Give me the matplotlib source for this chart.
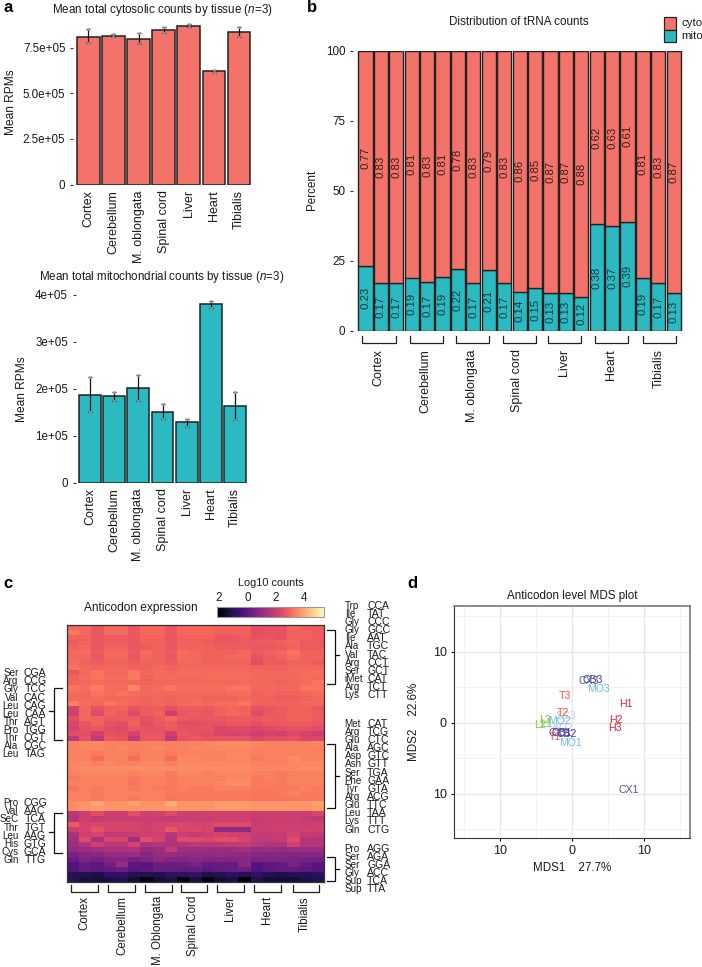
import matplotlib
matplotlib.use('Agg')
import matplotlib.pyplot as plt
from matplotlib.patches import Rectangle
import numpy as np

plt.rcParams['font.family'] = ['Liberation Sans', 'DejaVu Sans']
plt.rcParams['mathtext.fontset'] = 'custom'
plt.rcParams['mathtext.it'] = 'Liberation Sans:italic'
plt.rcParams['mathtext.rm'] = 'Liberation Sans'

W, H = 702, 967
RED = '#f3736b'
TEAL = '#2bbac2'
EDGE = '#222222'
TXT = '#1a1a1a'

tissues = ['Cortex', 'Cerebellum', 'M. oblongata', 'Spinal cord', 'Liver', 'Heart', 'Tibialis']
tissues_c = ['Cortex', 'Cerebellum', 'M. Oblongata', 'Spinal Cord', 'Liver', 'Heart', 'Tibialis']

cyto_mean = [8.10e5, 8.16e5, 7.98e5, 8.47e5, 8.71e5, 6.20e5, 8.36e5]
cyto_hi = [8.50e5, 8.24e5, 8.29e5, 8.65e5, 8.78e5, 6.26e5, 8.63e5]
cyto_lo = [7.74e5, 8.08e5, 7.68e5, 8.29e5, 8.64e5, 6.14e5, 8.10e5]

mito_mean = [1.876e5, 1.84e5, 2.02e5, 1.51e5, 1.29e5, 3.80e5, 1.63e5]
mito_hi = [2.24e5, 1.94e5, 2.29e5, 1.68e5, 1.36e5, 3.87e5, 1.92e5]
mito_lo = [1.51e5, 1.74e5, 1.74e5, 1.36e5, 1.19e5, 3.72e5, 1.33e5]

mito_pct = [23.1, 16.9, 16.9, 19.0, 17.5, 19.1, 22.2, 17.2, 21.6, 16.9, 14.0,
            15.1, 13.5, 13.4, 12.1, 38.0, 37.4, 38.9, 18.9, 17.0, 13.3]
mito_lab = ['0.23', '0.17', '0.17', '0.19', '0.17', '0.19', '0.22', '0.17', '0.21', '0.17', '0.14',
            '0.15', '0.13', '0.13', '0.12', '0.38', '0.37', '0.39', '0.19', '0.17', '0.13']
cyto_lab = ['0.77', '0.83', '0.83', '0.81', '0.83', '0.81', '0.78', '0.83', '0.79', '0.83', '0.86',
            '0.85', '0.87', '0.87', '0.88', '0.62', '0.63', '0.61', '0.81', '0.83', '0.87']

heat_rows = [
    [3.0, 3.0, 2.7, 3.0, 3.0, 2.7, 3.0, 3.0, 2.7, 3.0, 3.0, 3.0, 2.9, 2.9, 2.9, 2.5, 2.6, 2.6, 3.0, 2.8, 2.8],
    [3.3, 3.0, 2.7, 3.1, 3.1, 2.7, 3.0, 3.0, 2.7, 3.0, 3.0, 3.0, 2.9, 2.9, 2.9, 2.5, 2.6, 2.6, 2.9, 2.9, 2.8],
    [2.9, 2.9, 2.7, 2.8, 2.8, 2.7, 2.9, 2.9, 2.7, 2.9, 2.9, 2.9, 2.7, 2.7, 2.8, 2.6, 2.7, 2.6, 2.9, 2.9, 2.8],
    [2.8, 2.9, 2.7, 2.8, 2.8, 2.7, 2.9, 2.9, 2.7, 2.9, 2.9, 2.8, 2.7, 2.7, 2.8, 2.8, 2.8, 2.9, 3.0, 2.8, 2.8],
    [2.9, 3.0, 2.7, 2.9, 2.9, 2.7, 2.8, 2.9, 2.7, 2.9, 2.9, 2.9, 2.8, 2.8, 2.8, 2.7, 2.7, 2.8, 2.9, 2.8, 2.8],
    [3.0, 3.1, 2.8, 3.0, 3.0, 2.8, 3.1, 2.9, 2.8, 3.1, 3.0, 2.9, 2.9, 2.9, 3.0, 2.8, 2.9, 3.0, 3.2, 2.9, 2.9],
    [3.0, 3.0, 2.7, 3.0, 3.0, 2.7, 3.0, 2.9, 2.7, 3.1, 3.0, 2.9, 2.9, 3.0, 3.0, 2.6, 2.8, 2.9, 3.1, 2.9, 2.9],
    [3.1, 2.9, 2.8, 2.9, 2.9, 2.8, 2.9, 2.9, 2.8, 3.0, 3.0, 2.9, 2.9, 2.9, 2.9, 2.5, 2.8, 2.8, 2.9, 2.9, 2.8],
    [3.2, 3.0, 2.9, 3.0, 3.0, 2.9, 2.9, 3.0, 2.9, 3.0, 3.0, 3.0, 3.0, 3.0, 3.0, 2.9, 2.9, 2.9, 3.0, 3.0, 3.0],
    [2.7, 3.0, 3.2, 3.0, 3.0, 3.3, 3.0, 3.1, 3.0, 3.1, 3.1, 3.1, 3.1, 3.1, 3.1, 3.0, 3.0, 3.0, 3.0, 3.1, 3.1],
    [2.9, 3.1, 3.2, 3.1, 3.1, 3.3, 2.9, 3.1, 3.1, 3.0, 3.0, 3.1, 3.1, 3.1, 3.1, 3.0, 3.0, 3.0, 3.0, 3.1, 3.0],
    [2.9, 3.0, 3.1, 3.0, 3.0, 3.0, 2.9, 3.0, 3.0, 3.0, 3.0, 3.0, 3.0, 3.0, 3.1, 3.0, 3.0, 2.9, 3.0, 3.1, 3.2],
    [3.2, 3.1, 3.4, 3.1, 3.1, 3.5, 3.0, 3.1, 3.3, 3.1, 3.1, 3.1, 3.1, 3.2, 3.2, 3.0, 3.0, 3.0, 3.0, 3.2, 3.2],
    [3.1, 3.0, 3.2, 3.1, 3.2, 3.1, 3.0, 3.0, 3.0, 3.0, 3.0, 3.0, 3.0, 3.1, 3.1, 2.9, 3.0, 2.9, 2.9, 3.0, 3.1],
    [3.0, 3.0, 3.1, 3.0, 3.0, 3.0, 2.9, 3.0, 2.9, 3.0, 3.0, 2.9, 2.9, 2.9, 3.0, 2.9, 2.9, 2.8, 2.8, 2.9, 3.0],
    [3.4, 3.1, 3.0, 3.2, 3.1, 3.0, 2.9, 3.0, 2.9, 3.0, 3.1, 3.0, 3.1, 3.1, 3.2, 2.9, 2.9, 2.9, 2.9, 3.0, 3.0],
    [2.2, 3.0, 2.6, 2.9, 2.9, 2.6, 2.8, 2.8, 2.6, 2.8, 2.8, 2.7, 2.9, 3.0, 2.9, 2.6, 2.7, 2.8, 2.9, 2.9, 2.7],
    [2.1, 3.0, 2.4, 2.9, 2.8, 2.4, 2.8, 2.9, 2.1, 2.7, 2.8, 2.7, 2.9, 3.0, 2.9, 2.4, 2.7, 2.8, 2.9, 2.9, 2.8],
    [2.5, 3.0, 2.9, 2.8, 2.8, 2.8, 2.6, 2.8, 3.0, 2.8, 2.7, 2.7, 2.7, 2.8, 2.8, 2.7, 2.8, 2.8, 2.9, 2.9, 2.8],
    [2.3, 2.7, 2.9, 2.6, 2.5, 2.9, 2.5, 2.7, 2.8, 2.5, 2.5, 2.6, 2.6, 2.7, 2.7, 2.5, 2.7, 2.7, 2.8, 2.8, 2.7],
    [2.2, 2.6, 2.7, 2.5, 2.4, 2.7, 2.6, 2.6, 2.8, 2.6, 2.6, 2.6, 2.3, 2.4, 2.4, 2.3, 2.4, 2.5, 2.6, 2.6, 2.5],
    [2.5, 2.5, 2.1, 2.6, 2.5, 2.2, 2.7, 2.7, 2.1, 2.7, 2.6, 2.5, 2.3, 2.2, 2.3, 2.1, 2.2, 2.1, 2.4, 2.2, 2.1],
    [1.8, 2.6, 1.8, 2.7, 2.6, 1.8, 2.7, 2.7, 1.8, 2.6, 2.7, 2.6, 2.6, 2.6, 2.6, 2.3, 2.5, 2.5, 2.6, 2.3, 2.3],
    [3.4, 3.5, 3.5, 3.4, 3.4, 3.4, 3.4, 3.4, 3.4, 3.4, 3.4, 3.5, 3.6, 3.6, 3.6, 3.5, 3.4, 3.4, 3.4, 3.4, 3.5],
    [3.4, 3.5, 3.5, 3.4, 3.5, 3.4, 3.4, 3.5, 3.4, 3.4, 3.5, 3.5, 3.5, 3.5, 3.5, 3.4, 3.4, 3.4, 3.4, 3.4, 3.4],
    [3.4, 3.4, 3.3, 3.4, 3.4, 3.3, 3.4, 3.4, 3.3, 3.4, 3.4, 3.4, 3.4, 3.5, 3.5, 3.4, 3.4, 3.4, 3.4, 3.4, 3.4],
    [3.4, 3.4, 3.1, 3.4, 3.4, 3.1, 3.4, 3.4, 3.1, 3.5, 3.5, 3.4, 3.4, 3.5, 3.5, 3.3, 3.4, 3.4, 3.6, 3.4, 3.4],
    [3.5, 3.5, 3.4, 3.5, 3.4, 3.4, 3.5, 3.5, 3.4, 3.5, 3.5, 3.5, 3.5, 3.5, 3.5, 3.4, 3.4, 3.4, 3.5, 3.5, 3.5],
    [3.5, 3.6, 3.6, 3.6, 3.6, 3.6, 3.6, 3.6, 3.6, 3.6, 3.6, 3.6, 3.6, 3.6, 3.6, 3.5, 3.5, 3.5, 3.5, 3.6, 3.6],
    [3.4, 3.5, 3.5, 3.5, 3.5, 3.4, 3.5, 3.5, 3.3, 3.5, 3.5, 3.4, 3.5, 3.5, 3.5, 3.4, 3.4, 3.3, 3.4, 3.4, 3.4],
    [3.3, 3.4, 3.4, 3.4, 3.4, 3.3, 3.4, 3.4, 3.3, 3.4, 3.4, 3.4, 3.4, 3.5, 3.5, 3.3, 3.4, 3.3, 3.4, 3.4, 3.4],
    [3.4, 3.4, 3.4, 3.4, 3.4, 3.2, 3.4, 3.4, 3.3, 3.4, 3.4, 3.4, 3.5, 3.6, 3.6, 3.3, 3.3, 3.3, 3.4, 3.4, 3.4],
    [3.2, 3.4, 3.3, 3.4, 3.4, 3.3, 3.4, 3.3, 3.3, 3.4, 3.3, 3.3, 3.4, 3.4, 3.4, 3.3, 3.3, 3.3, 3.3, 3.4, 3.3],
    [3.4, 3.4, 3.3, 3.4, 3.4, 3.4, 3.4, 3.4, 3.3, 3.3, 3.3, 3.3, 3.3, 3.3, 3.3, 3.2, 3.2, 3.3, 3.4, 3.3, 3.3],
    [3.4, 3.4, 3.3, 3.4, 3.4, 3.3, 3.4, 3.4, 3.2, 3.3, 3.3, 3.3, 3.3, 3.3, 3.3, 3.2, 3.2, 3.2, 3.3, 3.3, 3.3],
    [3.6, 3.7, 4.0, 3.7, 3.7, 3.9, 3.7, 3.7, 4.1, 3.7, 3.7, 3.7, 3.8, 3.8, 3.8, 3.7, 3.7, 3.7, 3.7, 3.7, 3.9],
    [3.6, 3.7, 3.8, 3.7, 3.7, 3.7, 3.7, 3.7, 3.8, 3.7, 3.7, 3.7, 3.8, 3.8, 3.8, 3.7, 3.7, 3.7, 3.7, 3.7, 3.8],
    [1.7, 2.0, 2.5, 2.0, 2.0, 2.5, 2.1, 2.1, 2.4, 2.0, 2.0, 2.1, 2.1, 2.1, 2.1, 2.0, 2.0, 2.0, 2.0, 2.0, 2.3],
    [1.6, 2.1, 1.9, 2.0, 2.0, 2.0, 2.0, 2.0, 1.9, 2.0, 2.0, 2.0, 2.1, 2.1, 2.1, 1.9, 2.0, 2.0, 2.0, 1.9, 1.8],
    [2.8, 2.2, 2.3, 2.3, 2.3, 2.3, 2.1, 2.2, 2.3, 2.3, 2.2, 2.2, 2.4, 2.4, 2.4, 2.0, 2.1, 2.1, 2.1, 2.0, 2.1],
    [2.0, 2.2, 2.6, 2.2, 2.2, 2.2, 2.1, 2.2, 2.7, 2.3, 2.3, 2.2, 0.9, 0.9, 0.9, 2.0, 2.0, 2.1, 2.1, 2.1, 2.1],
    [1.4, 2.1, 2.2, 1.8, 1.9, 2.0, 2.1, 2.1, 1.7, 2.0, 1.9, 2.1, 2.2, 2.1, 2.1, 1.9, 1.9, 1.9, 2.2, 1.9, 1.8],
    [1.3, 2.4, 1.4, 2.3, 2.3, 1.3, 2.5, 2.2, 1.5, 2.4, 2.4, 2.3, 2.5, 2.5, 2.2, 1.8, 1.8, 1.9, 2.4, 1.6, 1.6],
    [1.2, 1.5, 2.1, 1.7, 1.7, 2.2, 1.5, 1.6, 1.5, 1.6, 1.7, 1.7, 1.7, 1.8, 1.9, 1.7, 1.5, 1.5, 2.1, 1.6, 1.6],
    [1.0, 1.1, 1.3, 1.4, 1.4, 1.5, 1.0, 1.1, 1.8, 1.2, 1.2, 1.1, 1.1, 1.1, 1.3, 1.0, 1.1, 1.0, 1.1, 1.1, 1.1],
    [0.5, 0.8, 0.8, 1.0, 1.0, 1.1, 0.8, 1.0, 1.1, 1.0, 1.0, 0.9, 1.0, 0.9, 0.9, 0.8, 0.8, 0.8, 0.7, 0.8, 0.8],
    [0.2, 0.6, 0.4, 0.7, 0.8, 0.4, 0.6, 0.9, 0.7, 0.7, 0.8, 0.7, 0.7, 0.7, 0.8, 0.5, 0.6, 0.6, 0.5, 0.4, 0.4],
    [-0.2, 0.1, 0.0, 0.4, 1.1, 0.0, -0.1, 0.3, 0.3, 0.3, 0.5, 0.1, 0.1, 0.1, 0.8, -0.2, 0.0, 0.1, 0.5, 0.1, -0.1],
    [-0.2, 0.1, 0.0, 0.1, 0.3, -0.1, 0.0, 0.2, 0.2, 0.1, 0.2, 0.0, 0.1, 0.2, 0.3, -0.2, 0.0, 0.1, 0.1, 0.0, -0.1],
    [-1.0, -1.1, -1.2, -0.8, -0.8, -1.1, -1.1, -1.1, -0.9, -0.9, -0.8, -1.1, -1.1, -0.9, -1.0, -0.8, -1.0, -1.2, -1.0, -1.0, -0.9],
    [-1.0, -1.3, -1.3, -1.2, -1.1, -1.4, -2.1, -1.4, -1.2, -2.1, -1.3, -2.1, -1.4, -1.2, -2.1, -1.1, -1.4, -1.4, -1.4, -1.2, -1.1],
]

left_a = ['Ser', 'Arg', 'Gly', 'Val', 'Leu', 'Leu', 'Thr', 'Pro', 'Thr', 'Ala', 'Leu']
left_b = ['CGA', 'CCG', 'TCC', 'CAC', 'CAG', 'CAA', 'AGT', 'TGG', 'CGT', 'CGC', 'TAG']
left2_a = ['Pro', 'Val', 'SeC', 'Thr', 'Leu', 'His', 'Cys', 'Gln']
left2_b = ['CGG', 'AAC', 'TCA', 'TGT', 'AAG', 'GTG', 'GCA', 'TTG']
right_a = ['Trp', 'Ile', 'Gly', 'Gly', 'Ile', 'Ala', 'Val', 'Arg', 'Ser', 'iMet', 'Arg', 'Lys']
right_b = ['CCA', 'TAT', 'CCC', 'GCC', 'AAT', 'TGC', 'TAC', 'CCT', 'GCT', 'CAT', 'TCT', 'CTT']
right2_a = ['Met', 'Arg', 'Glu', 'Ala', 'Asp', 'Asn', 'Ser', 'Phe', 'Tyr', 'Arg', 'Glu', 'Leu', 'Lys', 'Gln']
right2_b = ['CAT', 'TCG', 'CTC', 'AGC', 'GTC', 'GTT', 'TGA', 'GAA', 'GTA', 'ACG', 'TTC', 'TAA', 'TTT', 'CTG']
right3_a = ['Pro', 'Ser', 'Ser', 'Gly', 'Sup', 'Sup']
right3_b = ['AGG', 'AGA', 'GGA', 'ACC', 'TCA', 'TTA']

mds_names = ['SC1', 'SC2', 'SC3', 'CB1', 'CB2', 'CB3', 'CX2', 'CX3', 'CX1',
             'MO1', 'MO2', 'MO3', 'T1', 'T2', 'T3', 'H1', 'H2', 'H3', 'L1', 'L2', 'L3']
mds_x = [-1.9, -1.3, -0.9, -1.4, -0.7, 2.9, -1.9, 2.3, 7.8,
         -0.2, -1.7, 3.7, -2.3, -1.3, -1.0, 7.4, 6.1, 5.9, -3.6, -4.4, -3.7]
mds_y = [-0.8, -0.8, 0.9, -1.4, -1.6, 6.0, -1.4, 5.9, -9.5,
         -2.9, 0.3, 4.8, -2.0, 1.4, 3.7, 2.6, 0.4, -0.7, -0.2, -0.3, 0.4]
mds_col = ['#c9cdea', '#c9cdea', '#c9cdea', '#3b3b9a', '#3b3b9a', '#3b3b9a', '#5a4fa3', '#5a4fa3', '#5a4fa3',
           '#6dbde8', '#6dbde8', '#6dbde8', '#f8513c', '#f8513c', '#f8513c', '#e0203c', '#e0203c', '#e0203c',
           '#78cc4a', '#78cc4a', '#78cc4a']


def px_axes(fig, x0, x1, y_top, y_bottom):
    return fig.add_axes([x0 / W, 1 - y_bottom / H, (x1 - x0) / W, (y_bottom - y_top) / H])


def clean(ax):
    for s in ax.spines.values():
        s.set_visible(False)
    ax.tick_params(length=2, width=0.8, color='#333333', labelsize=8.4, labelcolor=TXT, pad=3.5)


def bar_panel(fig, box, xlim, ylim, mean, lo, hi, colour, ticks, ticklabels):
    ax = px_axes(fig, *box)
    clean(ax)
    x = np.arange(len(mean))
    ax.bar(x, mean, width=0.9, color=colour, edgecolor=EDGE, linewidth=1.1)
    m = np.array(mean)
    ax.errorbar(x, mean, yerr=[m - np.array(lo), np.array(hi) - m], fmt='none',
                ecolor='#111111', elinewidth=0.9, capsize=1.6, capthick=0.9)
    ax.plot(x, hi, ls='none', marker='.', ms=2, color='#999999')
    ax.plot(x, lo, ls='none', marker='.', ms=2, color='#999999')
    ax.set_xlim(*xlim)
    ax.set_ylim(*ylim)
    ax.set_yticks(ticks)
    ax.set_yticklabels(ticklabels)
    ax.set_xticks(x)
    ax.set_xticklabels(tissues, rotation=90, fontsize=9)
    ax.tick_params(axis='x', length=0, pad=4)
    return ax


def bracket_down(ov, x0, x1, y0, y1):
    ov.plot([x0, x0, x1, x1], [y0, y1, y1, y0], color='#222222', lw=0.9)


def codon_list(ov, names, codons, y0, step, x_a, x_b, ha):
    for i in range(len(names)):
        ov.text(x_a, y0 + i * step, names[i], ha=ha, va='center', fontsize=7.1, color=TXT)
        ov.text(x_b, y0 + i * step, codons[i], ha='center' if ha == 'right' else 'left',
                va='center', fontsize=7.6, color=TXT)


def main():
    fig = plt.figure(figsize=(W / 100, H / 100), dpi=100)

    # a, two bar charts
    bar_panel(fig, (73, 254, 20, 184.5), (-0.61, 6.6), (0, 9.02e5), cyto_mean, cyto_lo, cyto_hi, RED,
              [0, 2.5e5, 5e5, 7.5e5], ['0', '2.5e+05', '5.0e+05', '7.5e+05'])
    bar_panel(fig, (75.5, 250, 290, 482.7), (-0.6, 6.62), (0, 4.1e5), mito_mean, mito_lo, mito_hi, TEAL,
              [0, 1e5, 2e5, 3e5, 4e5], ['0', '1e+05', '2e+05', '3e+05', '4e+05'])

    # b, stacked bars
    axb = px_axes(fig, 353, 685, 50.7, 330.7)
    clean(axb)
    xb = np.arange(len(mito_pct))
    mito = np.array(mito_pct)
    axb.bar(xb, mito, width=0.92, color=TEAL, edgecolor=EDGE, linewidth=1.0)
    axb.bar(xb, 100 - mito, bottom=mito, width=0.92, color=RED, edgecolor=EDGE, linewidth=1.0)
    for i in xb:
        axb.text(i, mito[i] / 2, mito_lab[i], rotation=90, ha='center', va='center', fontsize=8.2, color='#14383a')
        axb.text(i, (mito[i] + 100) / 2, cyto_lab[i], rotation=90, ha='center', va='center', fontsize=8.2, color='#3a1a18')
    axb.set_xlim(-0.81, 20.73)
    axb.set_ylim(0, 100)
    axb.set_yticks([0, 25, 50, 75, 100])
    axb.set_xticks([])

    # c, heatmap
    axc = px_axes(fig, 67, 324, 625, 882)
    heat = np.array(heat_rows)
    mesh = axc.pcolormesh(heat, cmap='magma', vmin=-2.14, vmax=5.4)
    axc.invert_yaxis()
    axc.set_xticks([])
    axc.set_yticks([])
    for s in axc.spines.values():
        s.set_linewidth(0.9)
        s.set_color('#333333')

    cax = px_axes(fig, 217, 324, 607, 617)
    cb = fig.colorbar(mesh, cax=cax, orientation='horizontal')
    cb.set_ticks([-2, 0, 2, 4])
    cb.set_ticklabels(['2', '0', '2', '4'])
    cax.xaxis.set_ticks_position('top')
    cax.tick_params(length=0, labelsize=8.4, labelcolor=TXT, pad=2)
    cb.outline.set_edgecolor('#999999')
    cb.outline.set_linewidth(0.8)

    # d, MDS labels
    axd = px_axes(fig, 453.7, 690.3, 606.3, 838.3)
    axd.set_xlim(-16.4, 16.4)
    axd.set_ylim(-16.3, 16.4)
    axd.set_xticks([-10, 0, 10])
    axd.set_xticklabels(['10', '0', '10'])
    axd.set_yticks([-10, 0, 10])
    axd.set_yticklabels(['10', '0', '10'])
    axd.set_xticks([-15, -5, 5, 15], minor=True)
    axd.set_yticks([-15, -5, 5, 15], minor=True)
    axd.grid(True, which='major', color='#e8e8e8', lw=1.0)
    axd.grid(True, which='minor', color='#f2f2f2', lw=0.7)
    axd.set_axisbelow(True)
    axd.tick_params(which='minor', length=0)
    axd.tick_params(which='major', length=2, width=0.8, labelsize=9, labelcolor=TXT, pad=3)
    for i in range(len(mds_names)):
        axd.text(mds_x[i], mds_y[i], mds_names[i], color=mds_col[i], fontsize=7.6, ha='center', va='center')
    for side in ['top', 'right']:
        axd.spines[side].set_color('#777777')
        axd.spines[side].set_linewidth(1.2)
    for side in ['left', 'bottom']:
        axd.spines[side].set_color('#333333')

    # overlay in pixel coordinates for titles, brackets, labels
    ov = fig.add_axes([0, 0, 1, 1], zorder=10)
    ov.set_xlim(0, W)
    ov.set_ylim(H, 0)
    ov.axis('off')
    ov.patch.set_alpha(0)

    for s, x, y in [('a', 8, 8), ('b', 312, 8), ('c', 8, 583), ('d', 412, 583)]:
        ov.text(x, y, s, fontsize=12, fontweight='bold', ha='center', va='center', color='black')

    ov.text(162, 10.5, 'Mean total cytosolic counts by tissue ($\\mathit{n}$=3)', fontsize=8.4, ha='center', va='center', color=TXT)
    ov.text(162, 277, 'Mean total mitochondrial counts by tissue ($\\mathit{n}$=3)', fontsize=8.4, ha='center', va='center', color=TXT)
    ov.text(519, 22, 'Distribution of tRNA counts', fontsize=8.4, ha='center', va='center', color=TXT)
    ov.text(141, 608, 'Anticodon expression', fontsize=8.6, ha='center', va='center', color=TXT)
    ov.text(271, 583.5, 'Log10 counts', fontsize=7.8, ha='center', va='center', color=TXT)
    ov.text(572, 596, 'Anticodon level MDS plot', fontsize=8.4, ha='center', va='center', color=TXT)
    ov.text(572, 868, 'MDS1    27.7%', fontsize=8.4, ha='center', va='center', color=TXT)
    ov.text(414, 722, 'MDS2    22.6%', fontsize=8.4, rotation=90, ha='center', va='center', color=TXT)
    ov.text(11, 102, 'Mean RPMs', fontsize=8.6, rotation=90, ha='center', va='center', color=TXT)
    ov.text(22, 389, 'Mean RPMs', fontsize=8.6, rotation=90, ha='center', va='center', color=TXT)
    ov.text(312, 190, 'Percent', fontsize=8.4, rotation=90, ha='center', va='center', color=TXT)

    # b legend and tissue brackets
    ov.add_patch(Rectangle((664, 17), 12, 13, facecolor=RED, edgecolor=EDGE, lw=0.9))
    ov.add_patch(Rectangle((664, 30), 12, 12, facecolor=TEAL, edgecolor=EDGE, lw=0.9))
    ov.text(681, 23, 'cyto', fontsize=8.2, va='center', color=TXT)
    ov.text(681, 36, 'mito', fontsize=8.2, va='center', color=TXT)
    bx0 = [362.3, 409.7, 456.3, 503.3, 548.3, 595.3, 642.7]
    bx1 = [395.7, 442.7, 489.3, 536.3, 581.3, 628.3, 676]
    blab = [378.3, 425.7, 472.3, 517, 564.3, 611, 659]
    for i in range(7):
        bracket_down(ov, bx0[i], bx1[i], 335.7, 343.3)
        ov.text(blab[i], 349, tissues[i], rotation=90, fontsize=9, ha='center', va='top', color=TXT)

    # c brackets and codon lists
    cx0 = [71.3, 108.3, 144.7, 180.7, 217, 254.3, 292.7]
    cx1 = [98.3, 135, 171.7, 207.3, 243.7, 281, 319.3]
    clab = [84, 122, 158, 193, 230, 266.7, 305]
    for i in range(7):
        ov.plot([cx0[i], cx0[i], cx1[i], cx1[i]], [884.7, 891.7, 891.7, 884.7], color='#222222', lw=0.9)
        ov.text(clab[i], 896, tissues_c[i], rotation=90, fontsize=8.3, ha='center', va='top', color=TXT)

    for y0, y1, ym in [(687.7, 740, 710.7), (812.7, 853.3, 831.7)]:
        ov.plot([62.3, 54, 54, 62.3], [y0, y0, y1, y1], color='#111111', lw=0.9)
        ov.plot([49, 54], [ym, ym], color='#111111', lw=0.9)
    for y0, y1, ym in [(630, 684.3, 655), (743.7, 808.3, 775.7), (856.7, 880.7, 869)]:
        ov.plot([327.3, 335, 335, 327.3], [y0, y0, y1, y1], color='#111111', lw=0.9)
        ov.plot([335, 339], [ym, ym], color='#111111', lw=0.9)

    codon_list(ov, left_a, left_b, 673.3, 8.1, 18.5, 35, 'right')
    codon_list(ov, left2_a, left2_b, 803.3, 8.1, 18.5, 35, 'right')
    codon_list(ov, right_a, right_b, 605.7, 8.15, 344.7, 367, 'left')
    codon_list(ov, right2_a, right2_b, 723.7, 8.15, 344.7, 367, 'left')
    codon_list(ov, right3_a, right3_b, 848.7, 8.15, 344.7, 367, 'left')

    fig.savefig('out.png', dpi=100)


if __name__ == '__main__':
    main()
